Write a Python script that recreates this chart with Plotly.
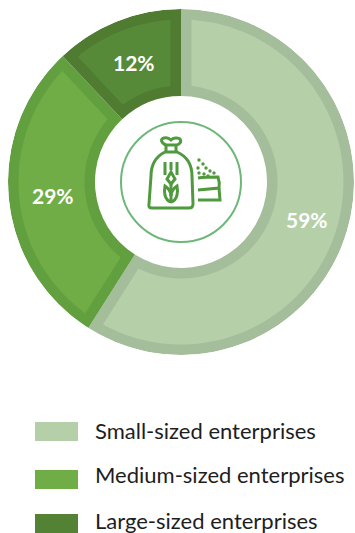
import numpy as np
import plotly.graph_objects as go

# Enterprise size shares (percent)
categories = ["Small-sized enterprises", "Medium-sized enterprises", "Large-sized enterprises"]
shares = [59, 29, 12]
fill_colors = ["#B5CFA8", "#70AD47", "#568A38"]
edge_colors = ["#A4BD9A", "#62A03F", "#4F7C30"]

OUTER, INNER, EDGE, LABEL_R = 173, 86, 10.5, 130
CX, CY = 181, 182
W, H = 355, 533
INK = "#4F9A3C"
FONT = "Lato, Carlito, Calibri, sans-serif"

spans = np.array(shares) * 3.6
starts = np.concatenate([[0], np.cumsum(spans)[:-1]])
mids = starts + spans / 2


def inset_sector(start, span):
    """Sector outline pulled in by EDGE on every side, as (r, theta) arrays."""
    ro, ri = OUTER - EDGE, INNER + EDGE
    do, di = np.degrees(np.arcsin(EDGE / ro)), np.degrees(np.arcsin(EDGE / ri))
    to = np.linspace(start + do, start + span - do, 90)
    ti = np.linspace(start + span - di, start + di, 60)
    return (np.concatenate([np.full(90, ro), np.full(60, ri), [ro]]),
            np.concatenate([to, ti, [to[0]]]))


fig = go.Figure()

# Darker rim of each slice
fig.add_trace(go.Barpolar(
    r=[OUTER - INNER] * 3, base=[INNER] * 3, theta=mids, width=spans,
    marker=dict(color=edge_colors, line=dict(width=0)),
    hoverinfo="skip", showlegend=False,
))

# Lighter face inside the rim
for start, span, color in zip(starts, spans, fill_colors):
    r, theta = inset_sector(start, span)
    fig.add_trace(go.Scatterpolar(
        r=r, theta=theta, mode="lines", fill="toself", fillcolor=color,
        line=dict(width=0, color=color), hoverinfo="skip", showlegend=False,
    ))

annotations = []

# Percentage labels centred in each slice's band
for share, mid in zip(shares, np.radians(mids)):
    annotations.append(dict(
        x=CX + LABEL_R * np.sin(mid) + 1, y=CY - LABEL_R * np.cos(mid) + 1,
        text=f"<b>{share}%</b>", xref="x", yref="y", showarrow=False,
        xanchor="center", yanchor="middle",
        font=dict(family=FONT, size=21, color="white"),
    ))

line = dict(color=INK, width=3)
shapes = [dict(type="circle", x0=121, x1=241, y0=122, y1=242,
               line=dict(color="#6DB878", width=2))]

# Central sack icon
icon_paths = [
    "M166,145 C161,143 160,139 164,138 C168,137 170,139 171,140 C173,138 178,137 180,139 C182,142 179,145 176,145 Z",
    "M166,145 L166,152 M176,145 L176,152",
    "M165,152 L177,152 C186,156 192,164 192,176 L193,204 Q193,208 189,208 L152,208 Q148,208 149,204 L151,176 C151,164 157,156 165,152 Z",
    "M165,162 L165,175 M171,162 L171,170 M177,162 L177,175",
    "M171,172 L167,179 L171,184 L175,179 Z",
    "M171,184 L171,203",
    "M171,202 C164,200 164,191 165,186 C168,188 171,191 171,196",
    "M171,202 C178,200 178,191 177,186 C174,188 171,191 171,196",
    "M198,178 C205,177 213,177 218,177 Q220,183 219,188 L198,190",
    "M219,188 L220,200 L198,200",
]
for p in icon_paths:
    shapes.append(dict(type="path", path=p, xref="x", yref="y", line=line))
seeds = [(199, 160), (203, 164), (198, 168), (206, 168), (199, 173), (204, 174),
         (210, 171), (214, 173), (208, 176)]
for sx, sy in seeds:
    shapes.append(dict(type="circle", x0=sx - 1.7, x1=sx + 1.7, y0=sy - 1.7, y1=sy + 1.7,
                       fillcolor=INK, line=dict(width=0)))

# Legend swatches and labels
swatch_tops = [422, 470, 514]
text_rows = [430, 474, 520]
text_lefts = [93, 93, 93]
for name, color, top, row, left in zip(categories, fill_colors, swatch_tops, text_rows, text_lefts):
    shapes.append(dict(type="rect", x0=35, x1=78, y0=top, y1=top + 19,
                       fillcolor=color if color != fill_colors[2] else "#548235",
                       line=dict(width=0)))
    annotations.append(dict(x=left, y=row, text=name, xref="x", yref="y", showarrow=False,
                            xanchor="left", yanchor="middle",
                            font=dict(family=FONT, size=22, color="#1E1E1E")))

for s in shapes:
    s.setdefault("xref", "x")
    s.setdefault("yref", "y")

fig.update_layout(
    width=W, height=H, margin=dict(l=0, r=0, t=0, b=0),
    paper_bgcolor="white", plot_bgcolor="rgba(0,0,0,0)", showlegend=False,
    xaxis=dict(range=[0, W], visible=False, domain=[0, 1], fixedrange=True),
    yaxis=dict(range=[H, 0], visible=False, domain=[0, 1], fixedrange=True),
    polar=dict(
        domain=dict(x=[8 / W, 354 / W], y=[(H - 355) / H, (H - 9) / H]),
        bgcolor="rgba(0,0,0,0)",
        radialaxis=dict(range=[0, OUTER], visible=False),
        angularaxis=dict(rotation=90, direction="clockwise", visible=False),
    ),
    shapes=shapes, annotations=annotations,
)
fig.write_html("out.html", config=dict(displayModeBar=False))
